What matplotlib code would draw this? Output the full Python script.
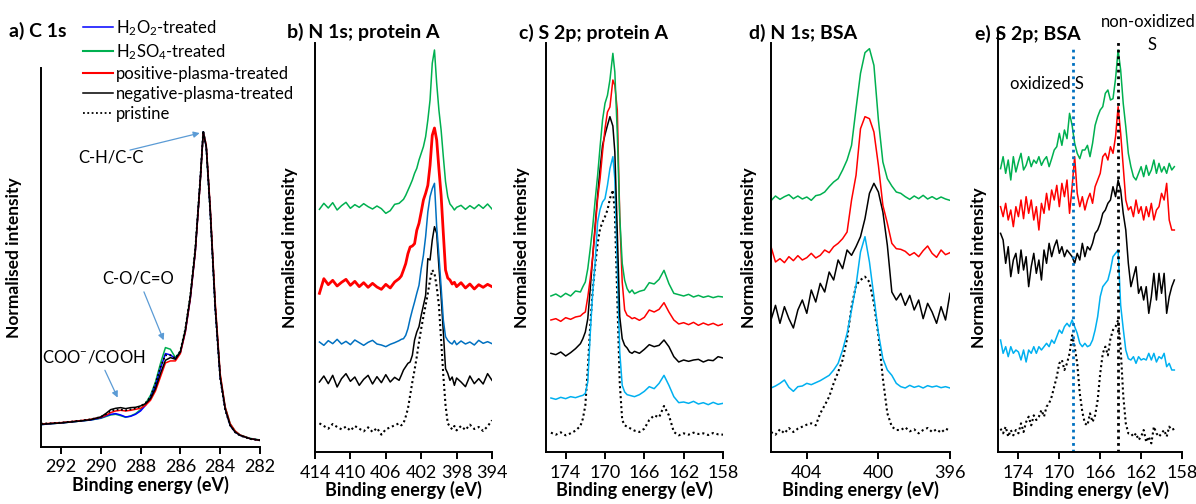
import matplotlib
matplotlib.use('Agg')
import matplotlib.pyplot as plt
from matplotlib.lines import Line2D

# ---- data (arbitrary intensity units) ----
a_energy = [293, 292.5, 292, 291.5, 291, 290.5, 290, 289.75, 289.5, 289.25, 289, 288.75, 288.5,
            288.25, 288, 287.75, 287.5, 287.25, 287, 286.75, 286.5, 286.25, 286, 285.75, 285.5,
            285.25, 285, 284.85, 284.7, 284.5, 284.25, 284, 283.75, 283.5, 283.25, 283, 282.5, 282]
a_h2o2 = [6.7, 7.0, 7.2, 7.5, 7.8, 8.1, 8.7, 9.3, 9.8, 10.0, 9.6, 9.0, 9.2, 9.8, 10.8, 12.5, 14.8,
          18.5, 23.5, 28.0, 27.6, 26.5, 28.3, 34.5, 44.5, 58.5, 80.0, 94.5, 90.0, 71.0, 42.0, 21.0,
          11.5, 6.5, 4.5, 3.5, 2.5, 2.0]
a_h2so4 = [6.7, 7.0, 7.2, 7.5, 7.8, 8.1, 8.6, 9.1, 9.6, 9.8, 9.4, 8.9, 9.3, 10.0, 11.2, 13.0, 15.5,
           19.5, 25.0, 29.8, 29.3, 26.8, 28.6, 35.0, 45.0, 59.0, 80.0, 94.5, 90.0, 71.0, 42.5, 21.5,
           12.0, 7.0, 4.8, 3.6, 2.6, 2.1]
a_pos = [6.9, 7.1, 7.3, 7.6, 7.9, 8.3, 8.9, 9.5, 10.3, 10.8, 11.0, 10.8, 11.0, 11.3, 11.6, 12.5, 14.0,
         16.8, 21.0, 25.2, 25.8, 25.8, 28.0, 34.5, 44.5, 58.5, 79.5, 94.3, 90.5, 72.0, 43.5, 22.0,
         12.0, 7.0, 4.8, 3.6, 2.5, 2.0]
a_neg = [6.8, 7.0, 7.2, 7.5, 7.8, 8.2, 9.0, 10.0, 11.2, 11.6, 11.8, 11.5, 11.8, 11.9, 12.3, 13.0, 14.5,
         17.5, 22.0, 26.0, 26.8, 26.3, 28.5, 35.0, 45.0, 59.0, 80.0, 94.5, 90.0, 71.0, 42.0, 21.0,
         11.5, 6.5, 4.5, 3.5, 2.5, 2.0]
a_pristine = [7.0, 7.1, 7.3, 7.6, 7.9, 8.3, 9.0, 9.8, 10.8, 11.2, 11.2, 11.0, 11.3, 11.6, 12.2, 13.2,
              15.0, 19.0, 24.0, 27.5, 27.5, 26.6, 28.8, 35.5, 45.5, 59.5, 80.5, 94.8, 90.0, 70.5,
              41.5, 20.5, 11.0, 6.5, 4.4, 3.4, 2.4, 2.0]

b_energy = [413.5, 413, 412.5, 412, 411.5, 411, 410.5, 410, 409.5, 409, 408.5, 408, 407.5, 407,
            406.5, 406, 405.5, 405, 404.5, 404.25, 404, 403.75, 403.5, 403.25, 403, 402.75, 402.5,
            402.25, 402, 401.75, 401.5, 401.25, 401, 400.75, 400.5, 400.25, 400, 399.75, 399.5,
            399.25, 399, 398.75, 398.5, 398.25, 398, 397.5, 397, 396.5, 396, 395.5, 395, 394.5, 394]
b_h2so4 = [72.8, 74.6, 73.2, 74.8, 72.6, 73.9, 74.9, 73.1, 74.2, 73.4, 74.5, 73.6, 72.9, 73.8, 73.0,
           71.6, 72.4, 74.3, 74.6,
           75.2, 75.8, 77.0, 78.5, 80.0, 81.6, 83.6, 85.1, 87.6, 89.6, 91.6, 94.6, 99.6, 105.6, 116.6,
           120.6, 110.6, 102.6, 96.6, 88.6, 81.1, 76.6, 74.4, 73.6, 72.6, 73.4,
           74.0, 72.8, 73.9, 73.0, 74.2, 73.1, 74.4, 72.9]
b_pos = [47.6, 52.0, 50.2, 51.5, 49.8, 50.9, 51.8, 50.0, 51.2, 49.6, 50.8, 49.4, 50.6, 49.5, 48.8,
         50.3, 49.2, 51.0, 52.0,
         52.8, 54.6, 56.5, 59.5, 61.5, 61.8, 62.5, 66.5, 68.6, 72.0, 75.6, 77.6, 80.0, 86.0, 95.0,
         97.2, 93.6, 85.0, 77.0, 65.6, 54.6, 52.2, 51.6, 50.4, 50.9, 49.6,
         50.8, 49.2, 50.4, 48.9, 50.2, 49.4, 50.3, 49.6]
b_h2o2 = [33.0, 32.0, 33.4, 32.5, 33.8, 32.4, 33.2, 32.2, 33.6, 32.8, 32.0, 32.9, 33.5, 32.4, 32.1,
          31.6, 32.3, 32.8, 33.4,
          33.8, 34.0, 35.0, 37.0, 40.0, 42.6, 45.0, 47.6, 50.0, 55.0, 59.0, 64.6, 72.0, 76.6, 79.0,
          80.6, 67.6, 59.0, 49.5, 39.6, 34.6, 33.5, 32.8, 32.4, 33.4, 32.2,
          33.3, 32.4, 33.0, 32.1, 33.5, 32.6, 33.1, 32.5]
b_neg = [21.0, 22.8, 20.5, 23.0, 19.5, 22.0, 23.5, 21.2, 22.5, 20.0, 21.8, 23.0, 20.4, 22.6, 20.8,
         23.2, 21.0, 22.4, 21.5,
         23.0, 24.6, 25.6, 26.6, 27.0, 29.0, 33.6, 36.0, 37.6, 41.0, 44.0, 47.0, 58.0, 57.6, 63.6,
         67.6, 65.6, 55.6, 46.6, 36.0, 25.0, 23.6, 21.5, 22.5, 20.0, 22.2,
         21.0, 19.6, 22.8, 20.5, 22.0, 20.4, 23.5, 21.5]
b_pristine = [8.6, 7.8, 7.0, 8.4, 7.5, 6.8, 7.6, 6.4, 7.8, 7.0, 6.2, 7.4, 6.0, 7.2, 5.2, 6.8, 7.4,
              8.0, 8.6,
              8.0, 8.6, 10.6, 13.0, 17.0, 21.0, 24.6, 28.6, 33.0, 37.0, 40.6, 44.0, 47.6, 51.6, 54.6,
              53.6, 49.6, 44.0, 33.6, 23.0, 14.0, 8.6, 7.6, 6.8, 7.8, 6.5,
              7.8, 6.6, 8.2, 6.9, 7.5, 6.3, 7.7, 9.5]

c_energy = [175.5, 175, 174.5, 174, 173.5, 173, 172.5, 172.25, 172, 171.75, 171.5, 171.25, 171,
            170.75, 170.5, 170.25, 170, 169.75, 169.5, 169.2, 169, 168.75, 168.5, 168.25, 168,
            167.75, 167.5, 167.25, 167, 166.5, 166, 165.5, 165, 164.5, 164, 163.5, 163, 162.5, 162,
            161.5, 161, 160.5, 160, 159.5, 159, 158.5, 158]
c_h2so4 = [46.8, 47.4, 46.5, 47.6, 46.8, 48.3, 48.0,
           49.6, 51.0, 55.0, 61.0, 67.6, 75.6, 83.0, 91.6, 99.6, 104.6, 107.0, 111.6, 119.6, 114.0,
           95.6, 70.6, 56.6, 51.5, 49.0, 47.8, 48.6, 47.5,
           48.2, 48.6, 50.8, 50.4, 51.8, 54.5, 50.5, 47.6, 47.2, 46.8, 47.3, 46.5, 47.0, 46.4, 46.8,
           46.3, 46.7, 46.5]
c_pos = [39.6, 40.0, 39.2, 40.3, 39.8, 40.5, 40.8,
         41.5, 42.0, 46.5, 52.0, 58.6, 67.0, 76.0, 82.0, 90.0, 97.0, 102.0, 103.5, 111.6, 110.0,
         102.6, 70.6, 51.0, 42.6, 41.0, 40.6, 40.0, 40.3,
         39.5, 40.4, 42.6, 42.0, 42.8, 44.8, 42.0, 39.6, 38.4, 38.8, 38.2, 38.9, 38.0, 38.7, 38.1,
         38.6, 37.9, 38.4]
c_neg = [29.6, 29.2, 30.0, 28.8, 29.8, 31.0, 32.5,
         34.0, 36.0, 40.0, 49.0, 58.6, 68.0, 77.0, 85.0, 92.0, 95.2, 98.0, 100.6, 97.8, 90.0, 66.0,
         40.6, 34.0, 32.0, 31.2, 30.0, 29.6, 30.2,
         29.6, 30.8, 32.2, 31.6, 32.0, 33.6, 31.6, 28.6, 27.0, 27.6, 27.2, 27.6, 27.8, 27.0, 27.6,
         27.4, 28.6, 28.2]
c_h2o2 = [16.2, 15.8, 16.4, 16.0, 16.6, 16.3, 16.8,
          17.0, 17.6, 21.0, 35.6, 48.0, 57.0, 69.0, 72.8, 75.0, 76.0, 80.0, 85.0, 88.6, 82.0, 55.6,
          30.0, 20.0, 18.0, 17.2, 17.0, 16.8, 16.6,
          17.2, 18.2, 19.6, 19.0, 20.6, 23.0, 20.0, 16.6, 14.8, 15.0, 14.6, 15.2, 14.4, 14.8, 14.2,
          14.9, 14.3, 14.6]
c_pristine = [5.8, 5.2, 5.9, 5.0, 5.6, 6.4, 7.8,
              10.0, 14.0, 25.0, 38.0, 48.6, 56.0, 62.6, 67.0, 69.0, 70.6, 72.6, 76.0, 78.6, 72.0,
              46.0, 20.6, 9.6, 8.0, 7.6, 7.2, 6.8, 6.4,
              6.0, 7.0, 9.6, 11.0, 10.4, 13.8, 11.0, 6.0, 5.0, 5.6, 5.2, 5.8, 5.4, 5.6, 5.1, 5.7,
              5.3, 5.2]

d_energy = [406, 405.75, 405.5, 405.25, 405, 404.75, 404.5, 404.25, 404, 403.75, 403.5, 403.25,
            403, 402.75, 402.5, 402.25, 402, 401.75, 401.5, 401.25, 401, 400.75, 400.5, 400.25,
            400, 399.75, 399.5, 399.25, 399, 398.75, 398.5, 398.25, 398, 397.75, 397.5, 397.25,
            397, 396.75, 396.5, 396.25, 396]
d_h2so4 = [75.4, 76.8, 75.8, 76.6, 77.2, 76.0, 76.8, 75.9, 76.5, 75.5, 76.9, 77.2, 78.0, 79.6, 81.0,
           82.0, 84.6, 87.6, 92.0, 103.0, 113.6, 119.8, 121.0, 116.0, 99.6, 87.0, 82.0, 79.8, 78.0,
           77.6, 76.6, 75.8, 76.8, 76.0, 77.0, 75.9, 76.6, 75.8, 76.5, 75.9, 75.5]
d_pos = [61.6, 57.0, 58.0, 56.8, 58.6, 57.4, 58.9, 57.6, 58.3, 59.6, 58.2, 59.0, 60.6, 59.8, 61.6,
         62.6, 64.0, 66.0, 75.6, 83.0, 97.0, 100.6, 100.0, 96.0, 86.0, 74.0, 68.6, 62.6, 61.0, 60.8,
         60.2, 59.0, 59.8, 58.6, 60.4, 61.8, 59.6, 58.4, 60.6, 59.2, 59.8]
d_neg = [39.6, 44.0, 38.6, 43.6, 40.0, 37.2, 42.6, 45.6, 41.6, 48.6, 45.0, 50.6, 48.0, 54.0, 51.6,
         57.6, 55.0, 60.6, 59.0, 61.6, 64.6, 70.0, 77.6, 80.6, 78.0, 72.0, 62.0, 48.0, 45.6, 47.6,
         44.0, 47.0, 42.6, 45.6, 40.0, 44.6, 42.0, 38.6, 43.6, 39.6, 47.6]
d_h2o2 = [19.2, 19.8, 20.6, 21.6, 19.4, 18.2, 19.6, 19.8, 20.6, 20.2, 20.8, 21.4, 22.2, 23.0, 24.6,
          26.6, 30.6, 35.6, 42.6, 50.0, 60.0, 64.6, 57.0, 46.6, 35.6, 28.0, 24.6, 23.0, 20.6, 19.6,
          19.2, 20.0, 19.4, 19.8, 19.2, 19.9, 19.5, 19.8, 19.3, 19.6, 19.2]
d_pristine = [6.0, 5.2, 6.8, 5.6, 7.2, 6.0, 7.0, 7.6, 8.2, 8.6, 8.0, 11.6, 14.0, 16.6, 20.6, 24.0,
              27.6, 34.0, 43.6, 50.0, 51.6, 52.6, 51.0, 44.6, 35.0, 22.0, 11.6, 7.6, 6.6, 6.6, 7.4,
              6.2, 6.8, 5.6, 6.6, 7.2, 6.0, 6.8, 5.8, 7.0, 6.4]

e_energy = [175.75, 175.5, 175.25, 175, 174.75, 174.5, 174.25, 174, 173.75, 173.5, 173.25, 173,
            172.75, 172.5, 172.25, 172, 171.75, 171.5, 171.25, 171, 170.75, 170.5, 170.25, 170,
            169.75, 169.5, 169.25, 169, 168.75, 168.5, 168.25, 168, 167.75, 167.5, 167.25, 167,
            166.75, 166.5, 166.25, 166, 165.75, 165.5, 165.25, 165, 164.75, 164.5, 164.25, 164,
            163.75, 163.5, 163.25, 163, 162.75, 162.5, 162.25, 162, 161.75, 161.5, 161.25, 161,
            160.75, 160.5, 160.25, 160, 159.75, 159.5, 159.25, 159, 158.75]
e_h2so4 = [85.0, 88.6, 83.6, 87.6, 81.6, 88.6, 84.0, 87.0, 89.6, 84.6, 86.0, 88.6, 85.6, 87.6, 86.6,
           88.6, 86.0, 87.6, 88.6, 85.6, 88.0, 90.6, 91.6, 95.6, 92.0, 96.6, 94.0, 101.6, 98.0, 92.6,
           89.6, 88.0, 90.6, 90.6, 92.0, 88.6, 92.6, 98.0, 100.6, 102.6, 103.6, 107.6, 108.6, 105.6,
           106.0, 112.0, 120.6, 114.6, 104.6, 97.6, 89.6, 85.6, 82.6, 81.6, 83.6, 85.6, 82.6, 86.0,
           83.0, 84.6, 87.6, 83.6, 86.6, 84.0, 85.6, 83.6, 86.6, 84.6, 85.6]
e_pos = [73.6, 70.6, 74.6, 69.6, 72.6, 67.6, 73.6, 70.6, 75.6, 70.0, 76.6, 71.6, 75.6, 69.6, 73.6,
         66.6, 74.6, 71.6, 77.6, 72.6, 78.6, 75.6, 80.0, 73.6, 80.6, 76.6, 81.6, 71.6, 79.6, 88.6,
         77.6, 73.6, 76.6, 72.6, 75.6, 77.6, 74.6, 79.6, 81.6, 83.6, 88.6, 89.6, 87.6, 91.6, 89.6,
         94.6, 103.6, 95.6, 85.6, 75.6, 72.6, 73.6, 70.6, 75.6, 71.6, 73.6, 69.6, 73.6, 70.6, 74.6,
         69.6, 72.6, 73.6, 77.6, 75.6, 80.6, 69.6, 66.6, 66.6]
e_neg = [65.6, 63.6, 56.6, 61.6, 52.6, 57.6, 59.6, 53.6, 60.6, 54.6, 58.6, 49.6, 55.6, 59.6, 53.6,
         57.6, 51.6, 60.6, 56.6, 62.6, 58.6, 61.6, 63.6, 59.6, 61.6, 58.6, 60.6, 59.6, 58.6, 56.6,
         59.6, 57.6, 62.6, 58.6, 61.6, 60.6, 62.6, 65.6, 66.6, 68.6, 71.6, 72.6, 74.6, 75.6, 79.6,
         76.6, 81.6, 78.6, 71.6, 66.6, 56.6, 49.6, 52.6, 55.6, 47.6, 49.6, 45.6, 49.6, 41.6, 46.6,
         53.6, 45.6, 53.6, 47.6, 53.6, 41.6, 46.6, 49.6, 51.6]
e_h2o2 = [33.6, 29.6, 31.6, 28.6, 31.6, 29.6, 30.6, 30.0, 27.6, 30.6, 27.0, 30.6, 29.6, 31.6, 29.6,
          31.6, 30.6, 31.6, 32.6, 31.6, 33.6, 32.6, 34.6, 36.6, 35.6, 37.6, 38.6, 37.6, 39.6, 37.6,
          35.6, 32.6, 31.6, 32.6, 31.6, 32.0, 33.6, 36.6, 40.6, 46.6, 49.6, 50.6, 51.6, 54.6, 58.6,
          59.6, 60.6, 44.0, 37.0, 30.6, 28.0, 27.6, 28.6, 26.6, 28.6, 27.6, 28.0, 27.6, 29.6, 27.6,
          29.6, 27.0, 28.6, 28.0, 29.6, 25.6, 26.6, 24.6, 24.6]
e_pristine = [7.0, 5.6, 7.6, 4.6, 6.6, 5.0, 6.6, 5.6, 8.6, 6.0, 9.0, 10.6, 8.0, 11.0, 9.6, 10.6,
              12.6, 10.6, 13.6, 14.6, 16.6, 19.6, 22.6, 26.6, 27.6, 24.6, 26.6, 29.6, 35.0, 31.6,
              26.6, 17.6, 12.0, 8.6, 8.0, 11.6, 9.0, 11.0, 15.6, 23.6, 29.6, 31.6, 29.0, 34.0, 36.6,
              37.6, 39.6, 31.0, 17.0, 8.6, 5.6, 5.6, 4.6, 5.6, 3.6, 4.6, 6.6, 3.0, 4.6, 2.6, 7.6, 5.6,
              4.6, 5.6, 6.6, 4.6, 7.6, 6.6, 7.0]
e_marker_energy = [168.68, 164.27]   # oxidized S / non-oxidized S

labels = [r'H$\mathregular{_2}$O$\mathregular{_2}$-treated',
          r'H$\mathregular{_2}$SO$\mathregular{_4}$-treated',
          'positive-plasma-treated', 'negative-plasma-treated', 'pristine']

# ---- style ----
plt.rcParams['font.family'] = ['Lato', 'DejaVu Sans']
plt.rcParams['mathtext.fontset'] = 'custom'
plt.rcParams['mathtext.rm'] = 'Lato'
plt.rcParams['mathtext.it'] = 'Lato:italic'
plt.rcParams['mathtext.bf'] = 'Lato:bold'

GREEN = '#00B050'
RED = '#FF0000'
BLACK = '#000000'
PURE_BLUE = '#0000FF'
MID_BLUE = '#0070C0'
LIGHT_BLUE = '#00B0F0'
ARROW = '#5B9BD5'
DOT = (0, (1, 1.4))

W, H = 1196, 504
fig = plt.figure(figsize=(W / 100, H / 100), dpi=100)


def px_axes(x0, y0, x1, y1):
    """Axes from pixel box (top-left origin)."""
    return fig.add_axes([x0 / W, 1 - y1 / H, (x1 - x0) / W, (y1 - y0) / H])


def style_axes(ax, xlim, ticks, ylim, ylab_x, ylab_y=0.5):
    ax.set_xlim(*xlim)
    ax.set_ylim(*ylim)
    ax.set_xticks(ticks)
    ax.set_xticklabels([str(t) for t in ticks])
    ax.set_yticks([])
    for s in ('top', 'right'):
        ax.spines[s].set_visible(False)
    for s in ('left', 'bottom'):
        ax.spines[s].set_linewidth(1.4)
    ax.tick_params(axis='x', direction='out', length=5, width=1.4, labelsize=13, pad=4)
    ax.set_xlabel('Binding energy (eV)', fontsize=13, fontweight='bold', labelpad=0)
    ax.set_ylabel('Normalised intensity', fontsize=12.5, fontweight='bold')
    ax.yaxis.set_label_coords(ylab_x, ylab_y)
    ax.patch.set_alpha(0)


def plot_set(ax, x, series, lws):
    # series: list of (values, color, dotted)
    for (y, color, dotted), lw in zip(series, lws):
        ax.plot(x, y, color=color, lw=lw, linestyle=DOT if dotted else '-')


# --- a) C 1s ---
ax_a = px_axes(41, 68, 260, 447)
plot_set(ax_a, a_energy,
         [(a_h2so4, GREEN, False), (a_h2o2, PURE_BLUE, False), (a_pos, RED, False),
          (a_neg, BLACK, False), (a_pristine, BLACK, True)],
         [1.1, 1.1, 1.1, 1.1, 1.3])
style_axes(ax_a, (293, 282), [292, 290, 288, 286, 284, 282], (0, 113.6), -0.087)
arrow = dict(arrowstyle='-|>', color=ARROW, lw=0.9, mutation_scale=9, shrinkA=0, shrinkB=0)
ax_a.text(289.5, 86.9, 'C-H/C-C', fontsize=12, ha='center', va='center')
ax_a.annotate('', xy=(285.03, 94.1), xytext=(288.53, 89.0), arrowprops=arrow)
ax_a.text(288.11, 50.6, 'C-O/C=O', fontsize=12, ha='center', va='center')
ax_a.annotate('', xy=(286.84, 32.0), xytext=(287.83, 46.5), arrowprops=arrow)
ax_a.text(290.36, 27.0, r'COO$^{\mathregular{-}}$/COOH', fontsize=12, ha='center', va='center')
ax_a.annotate('', xy=(289.15, 14.8), xytext=(289.79, 23.0), arrowprops=arrow)

# --- b) N 1s; protein A ---
ax_b = px_axes(315, 43, 492, 452)
plot_set(ax_b, b_energy,
         [(b_pristine, BLACK, True), (b_neg, BLACK, False), (b_h2o2, MID_BLUE, False),
          (b_pos, RED, False), (b_h2so4, GREEN, False)],
         [1.5, 1.1, 1.1, 2.0, 1.1])
style_axes(ax_b, (414, 394), [414, 410, 406, 402, 398, 394], (0, 122.7), -0.096)

# --- c) S 2p; protein A ---
ax_c = px_axes(546, 43, 723, 452)
plot_set(ax_c, c_energy,
         [(c_pristine, BLACK, True), (c_h2o2, LIGHT_BLUE, False), (c_neg, BLACK, False),
          (c_pos, RED, False), (c_h2so4, GREEN, False)],
         [1.5, 1.1, 1.1, 1.1, 1.1])
style_axes(ax_c, (176, 158), [174, 170, 166, 162, 158], (0, 122.7), -0.09)

# --- d) N 1s; BSA ---
ax_d = px_axes(771, 43, 950, 452)
plot_set(ax_d, d_energy,
         [(d_pristine, BLACK, True), (d_h2o2, LIGHT_BLUE, False), (d_neg, BLACK, False),
          (d_pos, RED, False), (d_h2so4, GREEN, False)],
         [1.5, 1.1, 1.1, 1.1, 1.1])
style_axes(ax_d, (406, 396), [404, 400, 396], (0, 122.7), -0.078)

# --- e) S 2p; BSA ---
ax_e = px_axes(998, 33, 1182, 452)
plot_set(ax_e, e_energy,
         [(e_pristine, BLACK, True), (e_h2o2, LIGHT_BLUE, False), (e_pos, RED, False),
          (e_neg, BLACK, False), (e_h2so4, GREEN, False)],
         [1.5, 1.1, 1.1, 1.1, 1.1])
ax_e.axvline(e_marker_energy[0], ymin=0, ymax=0.962, color=MID_BLUE, lw=2.0, linestyle=DOT)
ax_e.axvline(e_marker_energy[1], ymin=0, ymax=0.983, color=BLACK, lw=2.0, linestyle=DOT)
style_axes(ax_e, (176, 158), [174, 170, 166, 162, 158], (0, 125.7), -0.06, 0.44)

# ---- panel titles and free text ----
title_kw = dict(fontsize=14, fontweight='bold', ha='left', va='center')
fig.text(9 / W, 1 - 31 / H, 'a) C 1s', **title_kw)
fig.text(287 / W, 1 - 32 / H, 'b) N 1s; protein A', **title_kw)
fig.text(519 / W, 1 - 33 / H, 'c) S 2p; protein A', **title_kw)
fig.text(749 / W, 1 - 33 / H, 'd) N 1s; BSA', **title_kw)
fig.text(975 / W, 1 - 34 / H, 'e) S 2p; BSA', **title_kw)

fig.text(1047 / W, 1 - 84 / H, 'oxidized S', fontsize=12, ha='center', va='center')
fig.text(1148 / W, 1 - 22 / H, 'non-oxidized', fontsize=12, ha='center', va='center')
fig.text(1152 / W, 1 - 45 / H, 'S', fontsize=12, ha='center', va='center')

handles = [Line2D([], [], color=PURE_BLUE, lw=1.1),
           Line2D([], [], color=GREEN, lw=1.5),
           Line2D([], [], color=RED, lw=1.5),
           Line2D([], [], color=BLACK, lw=1.1),
           Line2D([], [], color=BLACK, lw=1.3, linestyle=DOT)]
fig.legend(handles, labels, loc='upper left', bbox_to_anchor=(83 / W, 1 - 18 / H),
           frameon=False, fontsize=12, handlelength=1.8, handletextpad=0.2,
           labelspacing=0.25, borderpad=0, borderaxespad=0)

fig.savefig('out.png', dpi=100)
